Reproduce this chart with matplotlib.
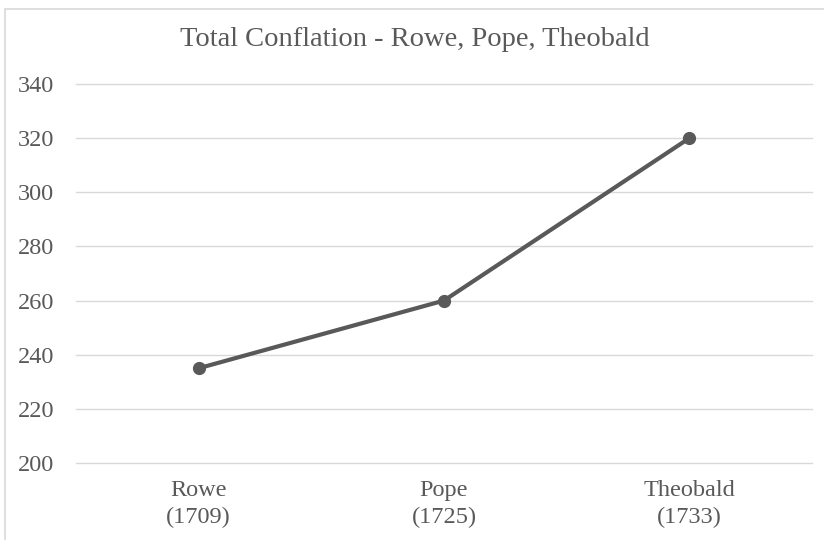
import matplotlib.pyplot as plt
from matplotlib.patches import Rectangle
from matplotlib.transforms import ScaledTranslation

editions = ["Rowe\n(1709)", "Pope\n(1725)", "Theobald\n(1733)"]
conflation = [235, 260, 320]
yticks = [200, 220, 240, 260, 280, 300, 320, 340]

plt.rcParams["font.family"] = ["Liberation Serif", "DejaVu Serif"]

W, H = 824, 540
fig = plt.figure(figsize=(W / 100, H / 100), dpi=100)

# outer chart border (runs off the right/bottom edge in the reference)
fig.patches.append(Rectangle((5 / W, -0.05), 1.1, 1 - 9 / H + 0.05,
                             transform=fig.transFigure, fill=False,
                             edgecolor="#d9d9d9", linewidth=1.2))

ax = fig.add_axes([76 / W, 1 - 463 / H, (812 - 76) / W, (463 - 84) / H])
ax.plot(range(len(editions)), conflation, color="#595959", linewidth=3,
        marker="o", markersize=8.5, solid_capstyle="round")

ax.set_xlim(-0.5, 2.5)
ax.set_ylim(200, 340)
ax.set_yticks(yticks)
ax.set_xticks(range(len(editions)))
ax.set_xticklabels(editions, linespacing=1.4)
ax.grid(axis="y", color="#d9d9d9", linewidth=1)
for gl in ax.get_ygridlines():
    gl.set_clip_on(False)
ax.set_axisbelow(True)
for s in ax.spines.values():
    s.set_visible(False)
ax.tick_params(length=0, labelsize=17.5, labelcolor="#595959")
ax.tick_params(axis="x", pad=12)
ax.yaxis.set_tick_params(pad=0)
for lbl in ax.get_yticklabels():
    lbl.set_horizontalalignment("left")
    lbl.set_transform(ax.get_yaxis_transform()
                      + ScaledTranslation(-58 / 100, 0, fig.dpi_scale_trans))

fig.text(415 / W, 1 - 40 / H, "Total Conflation - Rowe, Pope, Theobald",
         ha="center", va="center", fontsize=20.5, color="#595959")

fig.savefig("out.png", dpi=100)
